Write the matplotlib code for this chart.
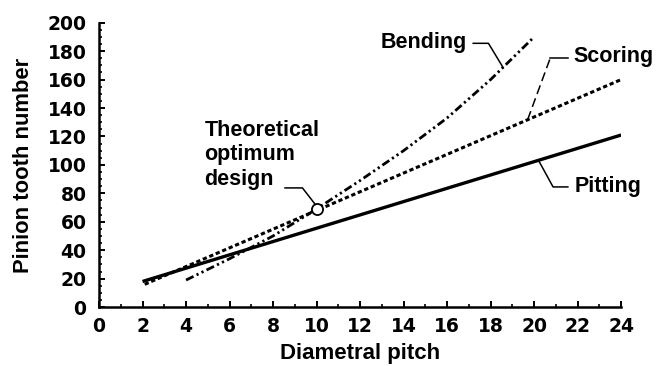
import numpy as np
import matplotlib.pyplot as plt
from matplotlib.ticker import MultipleLocator

plt.rcParams['font.family'] = ['Liberation Sans', 'DejaVu Sans']
plt.rcParams['font.weight'] = 'bold'

# Pinion tooth number limits vs diametral pitch
pitting_x = [2, 24]
pitting_y = [18, 121]

scoring_x = [2.1, 24]
scoring_y = [16, 160]

bending_x = [4, 6, 8, 10, 12, 14, 16, 18, 20]
bending_y = [19, 34, 50, 69, 89, 110, 133, 160, 190]

optimum = (10, 69)

FS = 15.5

fig = plt.figure(figsize=(6.58, 3.66), dpi=100)
ax = fig.add_axes([0.1505, 0.161, 0.7935, 0.777])

ax.plot(pitting_x, pitting_y, color='black', lw=2.4, solid_capstyle='butt')
ax.plot(scoring_x, scoring_y, color='black', lw=2.2, dashes=(1.4, 0.9))
ax.plot(bending_x, bending_y, color='black', lw=2.0,
        dashes=(3, 1.2, 0.8, 1.2, 0.8, 1.2))
ax.plot(*optimum, 'o', mfc='white', mec='black', ms=8, mew=1.3, zorder=5)

# leader lines for the labels
lw_lead = 1.1
bx = 18.57
by = np.interp(bx, bending_x, bending_y)
ax.plot([17.2, 17.9, bx], [185.5, 185.5, by], color='black', lw=lw_lead)
ax.text(16.9, 186, 'Bending', fontsize=FS, ha='right', va='center')

sx = 19.7
sy = np.interp(sx, scoring_x, scoring_y)
ax.plot([sx, 20.75], [sy, 175.5], color='black', lw=lw_lead, dashes=(6, 3))
ax.plot([20.75, 21.55], [175.5, 175.5], color='black', lw=lw_lead)
ax.text(21.8, 176, 'Scoring', fontsize=FS, ha='left', va='center')

px = 20.2
py = np.interp(px, pitting_x, pitting_y)
ax.plot([px, 20.87, 21.55], [py, 84.5, 84.5], color='black', lw=lw_lead)
ax.text(21.85, 85, 'Pitting', fontsize=FS, ha='left', va='center')

ax.plot([8.55, 9.35, optimum[0] - 0.05], [83.8, 83.8, optimum[1] + 3],
        color='black', lw=lw_lead)
ax.text(4.85, 107, 'Theoretical\noptimum\ndesign', fontsize=FS,
        ha='left', va='center', linespacing=1.2)

ax.set_xlim(0, 24)
ax.set_ylim(0, 200)
ax.set_xticks(np.arange(0, 25, 2))
ax.set_yticks(np.arange(0, 201, 20))
ax.xaxis.set_minor_locator(MultipleLocator(1))
ax.yaxis.set_minor_locator(MultipleLocator(5))

for s in ['top', 'right']:
    ax.spines[s].set_visible(False)
for s in ['left', 'bottom']:
    ax.spines[s].set_linewidth(1.8)

ax.tick_params(which='major', direction='in', length=4.5, width=1.4)
ax.tick_params(which='minor', direction='in', length=2.3, width=1.2)
ax.tick_params(axis='y', pad=9)
ax.tick_params(axis='x', pad=7)
for lab in ax.get_xticklabels() + ax.get_yticklabels():
    lab.set_fontfamily('DejaVu Sans')
    lab.set_fontsize(13.5)
    lab.set_fontweight('bold')

ax.set_xlabel('Diametral pitch', fontsize=FS + 0.5, fontweight='bold', labelpad=5)
ax.set_ylabel('Pinion tooth number', fontsize=FS + 0.3, fontweight='bold', labelpad=10)

fig.savefig('out.png', dpi=100)
